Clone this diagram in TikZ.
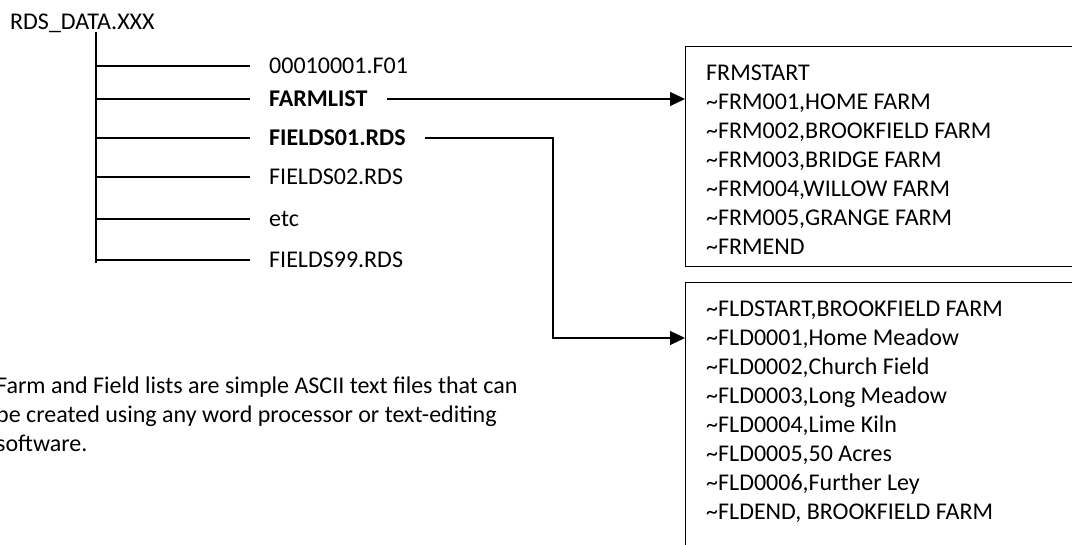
\documentclass[tikz,border=0pt]{standalone}
\usepackage{fontspec}
\setmainfont{Carlito}
\usetikzlibrary{arrows.meta,positioning}

\begin{document}
\begin{tikzpicture}[
    x=1pt, y=-1pt,
    every node/.style={font=\fontsize{24}{29}\selectfont},
    line/.style={line width=1.2pt, black},
    arr/.style={line, -{Triangle[length=15pt, width=14pt]}},
    filelabel/.style={anchor=west, inner xsep=19pt, inner ysep=0pt,
                text height=15.5pt, text depth=0pt},
    listbox/.style={draw, line width=1.2pt, anchor=north west,
                minimum width=420pt, inner sep=0pt},
    listtext/.style={anchor=north west, align=left, inner sep=0pt}
]
\useasboundingbox (0,0) rectangle (1072,545);

% directory tree
\node[anchor=base west, inner sep=0pt] (root) at (10,30) {RDS\_DATA.XXX};
\coordinate (trunktop) at (96,32);
\coordinate (trunkbot) at (96,263);
\draw[line] (trunktop) -- (trunkbot);

\coordinate (f01end) at (250,66);
\coordinate (farmend) at (250,99);
\coordinate (fld01end) at (250,138);
\coordinate (fld02end) at (250,177);
\coordinate (etcend) at (250,219);
\coordinate (fld99end) at (250,260);

\draw[line] (f01end -| trunktop) -- (f01end);
\draw[line] (farmend -| trunktop) -- (farmend);
\draw[line] (fld01end -| trunktop) -- (fld01end);
\draw[line] (fld02end -| trunktop) -- (fld02end);
\draw[line] (etcend -| trunktop) -- (etcend);
\draw[line] (fld99end -| trunktop) -- (fld99end);

\node[filelabel] (f01) at (f01end) {00010001.F01};
\node[filelabel] (farmlist) at (farmend) {\textbf{FARMLIST}};
\node[filelabel] (fields01) at (fld01end) {\textbf{FIELDS01.RDS}};
\node[filelabel] (fields02) at (fld02end) {FIELDS02.RDS};
\node[filelabel] (etc) at (etcend) {etc};
\node[filelabel] (fields99) at (fld99end) {FIELDS99.RDS};

% list files
\node[listbox, minimum height=220pt] (farmbox) at (685,46) {};
\node[listtext] (farmtext) at ([xshift=21pt, yshift=-14.2pt]farmbox.north west)
     {\strut FRMSTART\\\strut \textasciitilde FRM001,HOME FARM\\
      \strut \textasciitilde FRM002,BROOKFIELD FARM\\\strut \textasciitilde FRM003,BRIDGE FARM\\
      \strut \textasciitilde FRM004,WILLOW FARM\\\strut \textasciitilde FRM005,GRANGE FARM\\
      \strut \textasciitilde FRMEND};

\node[listbox, minimum height=300pt] (fieldbox) at (685,282) {};
\node[listtext] (fieldtext) at ([xshift=21pt, yshift=-14.2pt]fieldbox.north west)
     {\strut \textasciitilde FLDSTART,BROOKFIELD FARM\\\strut \textasciitilde FLD0001,Home Meadow\\
      \strut \textasciitilde FLD0002,Church Field\\\strut \textasciitilde FLD0003,Long Meadow\\
      \strut \textasciitilde FLD0004,Lime Kiln\\\strut \textasciitilde FLD0005,50 Acres\\
      \strut \textasciitilde FLD0006,Further Ley\\\strut \textasciitilde FLDEND, BROOKFIELD FARM};

% connectors
\coordinate (fldbend) at (553,338);
\draw[arr] (farmlist.east) -- (farmlist.east -| farmbox.west);
\draw[arr] (fields01.east) -| (fldbend) -- (fldbend -| fieldbox.west);

% note
\node[listtext] (note) at (-4,373.2)
     {\strut Farm and Field lists are simple ASCII text files that can\\
      \strut be created using any word processor or text-editing\\
      \strut software.};
\end{tikzpicture}
\end{document}
